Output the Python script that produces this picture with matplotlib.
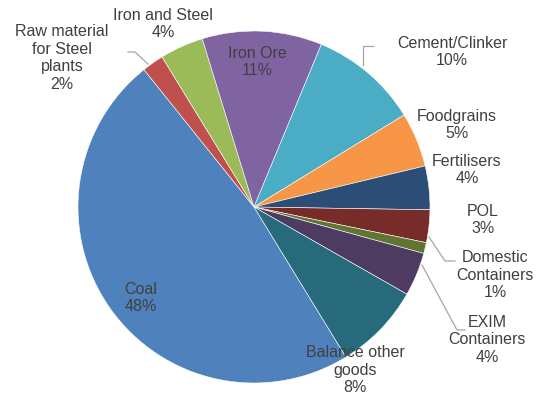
import matplotlib
matplotlib.use("Agg")
import matplotlib.pyplot as plt

plt.rcParams['font.family'] = ['Liberation Sans', 'DejaVu Sans']

# commodity share (%), in drawing order (clockwise)
goods = ['Coal', 'Raw material\nfor Steel\nplants', 'Iron and Steel', 'Iron Ore',
         'Cement/Clinker', 'Foodgrains', 'Fertilisers', 'POL',
         'Domestic\nContainers', 'EXIM\nContainers', 'Balance other\ngoods']
share = [48, 2, 4, 11, 10, 5, 4, 3, 1, 4, 8]
colors = ['#4F81BD', '#C0504D', '#9BBB59', '#8064A2', '#4BACC6', '#F79646',
          '#2C4D75', '#772C2A', '#5F7530', '#4D3B62', '#276A7C']

# label centres in pixels (x, y from top)
label_px = [(141, 298), (62, 58), (163, 24), (257, 62), (452, 52), (457, 125),
            (467, 170), (483, 220), (495, 275), (487, 340), (355, 370)]

W, H = 537, 401
cx, cy, R = 254, 207, 176

fig = plt.figure(figsize=(W / 100, H / 100), dpi=100)
ax = fig.add_axes([0, 0, 1, 1])
ax.axis('off')

ax.pie(share, colors=colors, startangle=301.5, counterclock=False,
       wedgeprops=dict(edgecolor='white', linewidth=0.4))

ax.set_xlim(-cx / R, (W - cx) / R)
ax.set_ylim(-(H - cy) / R, cy / R)
ax.set_aspect('auto')


def to_data(px, py):
    return (px - cx) / R, (cy - py) / R


for name, val, (px, py) in zip(goods, share, label_px):
    x, y = to_data(px, py)
    ax.text(x, y, f'{name}\n{val}%', ha='center', va='center', fontsize=11.5,
            color='#404040', linespacing=1.2)

# leader lines
leaders = [
    [(128, 52), (135, 52), (148, 64)],
    [(373, 46), (363, 46), (363, 65)],
    [(429, 237), (445, 261), (455, 261)],
    [(422, 265), (457, 330), (465, 330)],
]
for pts in leaders:
    xs, ys = zip(*[to_data(px, py) for px, py in pts])
    ax.plot(xs, ys, color='#A6A6A6', linewidth=0.9)

fig.savefig('out.png', dpi=100)
